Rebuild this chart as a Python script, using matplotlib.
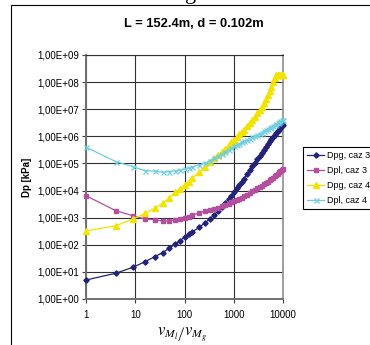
import matplotlib
matplotlib.use("Agg")
import matplotlib.pyplot as plt
import numpy as np
from matplotlib.patches import Rectangle

plt.rcParams['font.family'] = ['Liberation Sans', 'DejaVu Sans']

# x values (ratio of velocities)
x_vals = [1, 4, 9, 16, 25, 36, 49, 64, 81, 100, 121, 144, 196, 256, 324, 400, 484,
          576, 676, 784, 900, 1024, 1156, 1296, 1444, 1600, 1849, 2116, 2401, 2704,
          3025, 3364, 3721, 4096, 4489, 4900, 5329, 5776, 6241, 6724, 7225, 7744,
          8281, 8836, 9409, 10000]

# log10 of Dp [kPa]
dpg_caz3_log = [0.70, 0.95, 1.17, 1.38, 1.56, 1.71, 1.87, 2.02, 2.15, 2.28, 2.38, 2.47,
                2.64, 2.80, 2.95, 3.10, 3.25, 3.40, 3.55, 3.68, 3.81, 3.95, 4.08, 4.21,
                4.33, 4.44, 4.60, 4.76, 4.90, 5.03, 5.15, 5.27, 5.38, 5.48, 5.60, 5.72,
                5.82, 5.91, 5.99, 6.06, 6.13, 6.19, 6.25, 6.31, 6.37, 6.42]
dpl_caz3_log = [3.81, 3.26, 3.07, 2.95, 2.92, 2.88, 2.88, 2.93, 2.95, 3.00, 3.04, 3.08,
                3.18, 3.24, 3.28, 3.32, 3.37, 3.42, 3.47, 3.52, 3.56, 3.61, 3.65, 3.70,
                3.74, 3.79, 3.85, 3.91, 3.97, 4.02, 4.08, 4.13, 4.18, 4.23, 4.28, 4.33,
                4.38, 4.43, 4.48, 4.53, 4.57, 4.62, 4.67, 4.72, 4.77, 4.81]
dpg_caz4_log = [2.51, 2.70, 2.95, 3.16, 3.35, 3.53, 3.72, 3.94, 4.07, 4.21, 4.33, 4.45,
                4.68, 4.87, 5.05, 5.20, 5.32, 5.44, 5.55, 5.67, 5.78, 5.88, 5.98, 6.07,
                6.16, 6.25, 6.38, 6.50, 6.62, 6.73, 6.85, 6.97, 7.10, 7.23, 7.37, 7.52,
                7.68, 7.83, 8.00, 8.15, 8.27, 8.27, 8.27, 8.27, 8.27, 8.27]
dpl_caz4_log = [5.60, 5.07, 4.88, 4.73, 4.72, 4.67, 4.70, 4.73, 4.74, 4.80, 4.83, 4.87,
                4.94, 5.01, 5.10, 5.20, 5.28, 5.36, 5.44, 5.51, 5.58, 5.63, 5.68, 5.73,
                5.78, 5.82, 5.87, 5.92, 5.97, 6.01, 6.06, 6.10, 6.14, 6.19, 6.23, 6.27,
                6.31, 6.35, 6.39, 6.43, 6.46, 6.50, 6.53, 6.56, 6.59, 6.62]

series_labels = ["Dpg, caz 3", "Dpl, caz 3", "Dpg, caz 4", "Dpl, caz 4"]
y_tick_labels = ["1,00E+00", "1,00E+01", "1,00E+02", "1,00E+03", "1,00E+04",
                 "1,00E+05", "1,00E+06", "1,00E+07", "1,00E+08", "1,00E+09"]
x_tick_labels = ["1", "10", "100", "1000", "10000"]

W, H = 370, 345
fig = plt.figure(figsize=(W / 100, H / 100), dpi=100)
fig.patch.set_facecolor('white')

# outer chart frame (partially cut)
fig.add_artist(Rectangle((10.7 / W, -0.1), 1.2, 1.1 - 5 / H,
                         transform=fig.transFigure, fill=False,
                         edgecolor='black', linewidth=0.8))
# cut-off caption glyph at top
fig.text(191 / W, 1 + 1.0 / H, "g", fontsize=16, family='Liberation Serif',
         ha='center', va='baseline')

ax = fig.add_axes([86 / W, 1 - 299 / H, 197 / W, 244 / H])
ax.set_xscale('log')
ax.set_yscale('log')
ax.set_xlim(1, 10000)
ax.set_ylim(1, 1e9)

styles = [
    dict(color='#232377', marker='D', markersize=2.7),
    dict(color='#B44FA0', marker='s', markersize=3.3),
    dict(color='#F2E400', marker='^', markersize=3.8),
    dict(color='#6FCEE0', marker='x', markersize=3.6, markeredgewidth=0.9),
]
data = [dpg_caz3_log, dpl_caz3_log, dpg_caz4_log, dpl_caz4_log]
lines = []
for ylog, lab, st in zip(data, series_labels, styles):
    y = 10 ** np.array(ylog)
    ln, = ax.plot(x_vals, y, linewidth=0.9, label=lab,
                  markerfacecolor=st['color'], markeredgecolor=st['color'],
                  clip_on=False, zorder=3, **st)
    lines.append(ln)

ax.set_yticks([10.0 ** k for k in range(10)])
ax.set_yticklabels(y_tick_labels)
ax.set_xticks([10.0 ** k for k in range(5)])
ax.set_xticklabels(x_tick_labels)
ax.minorticks_off()
ax.tick_params(axis='both', labelsize=7.0, length=3, width=0.8, color='#404040',
               direction='out', pad=2)
ax.tick_params(axis='x', pad=5)
ax.grid(True, which='major', color='#303030', linewidth=0.8)
ax.set_axisbelow(True)
for s in ['left', 'bottom']:
    ax.spines[s].set_color('#707070')
    ax.spines[s].set_linewidth(1.4)
ax.spines['right'].set_color('#909090')
ax.spines['right'].set_linewidth(1.2)
ax.spines['top'].set_color('#303030')
ax.spines['top'].set_linewidth(0.8)

fig.text(27 / W, 1 - 177 / H, "Dp [kPa]", rotation=90, fontsize=7, fontweight='bold',
         ha='center', va='center')
fig.text(194 / W, 1 - 24 / H, "L = 152.4m, d = 0.102m", fontsize=9.3, fontweight='bold',
         ha='center', va='center')
fig.text(182 / W, 1 - 335 / H, r"$v_{M_l}\left/v_{M_g}\right.$", fontsize=12,
         ha='center', va='center', math_fontfamily='stix')

leg = fig.legend(handles=lines, labels=series_labels, loc='upper left',
                 bbox_to_anchor=(303 / W, 1 - 147 / H), fontsize=6.5,
                 frameon=True, fancybox=False, edgecolor='black', framealpha=1,
                 handlelength=1.9, handletextpad=0.3, borderpad=0.45,
                 labelspacing=0.67, borderaxespad=0)
leg.get_frame().set_linewidth(0.8)

fig.savefig("out.png", dpi=100)
